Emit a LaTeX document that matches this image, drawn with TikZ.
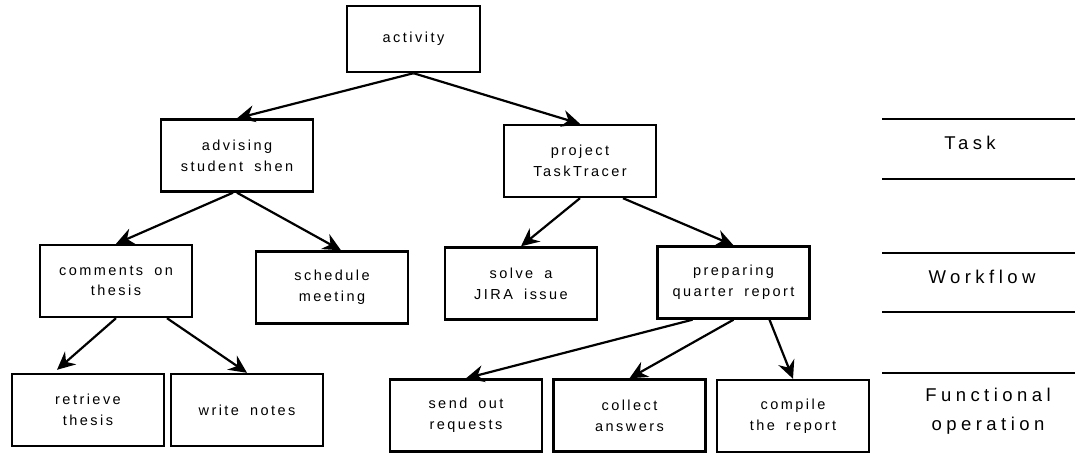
\documentclass[tikz,border=0pt]{standalone}
\usepackage{fontspec}
\setmainfont{Liberation Sans}[LetterSpace=17,WordSpace=1.7]
\newfontfamily\levelfont{Liberation Sans}[LetterSpace=24]
\usetikzlibrary{arrows.meta}

\begin{document}
\begin{tikzpicture}[x=1pt,y=-1pt]
    \tikzstyle{every node}=[font=\fontsize{14.5}{20.7}\selectfont]
    \tikzstyle{box}=[draw,line width=2.4pt,minimum width=152pt,minimum height=72pt,align=center,inner sep=0pt]
    \tikzstyle{link}=[line width=2.2pt,-{Stealth[length=18pt,width=17pt,inset=6pt]}]
    \tikzstyle{level}=[font=\levelfont\fontsize{18.5}{29}\selectfont,align=center]
    \useasboundingbox (0,0) rectangle (1075,455);

    \node[box,minimum width=133pt,minimum height=66pt] (activity) at (413.5,39) {activity};

    \node[box] (advising) at (237,155.5) {advising\\student shen};
    \node[box] (project) at (580,161) {project\\TaskTracer};

    \node[box] (comments) at (116,281) {comments on\\thesis};
    \node[box] (schedule) at (332,287.5) {schedule\\meeting};
    \node[box] (solve) at (521,283.5) {solve a\\JIRA issue};
    \node[box] (preparing) at (733.5,282.5) {preparing\\quarter report};

    \node[box] (retrieve) at (88,410) {retrieve\\thesis};
    \node[box] (notes) at (247,410) {write notes};
    \node[box] (requests) at (466,415.5) {send out\\requests};
    \node[box] (answers) at (629.5,415.5) {collect\\answers};
    \node[box] (report) at (793,416) {compile\\the report};

    \draw[link] (activity.south) -- (advising.north);
    \draw[link] (activity.south) -- (project.north);

    \draw[link] ([xshift=-4pt]advising.south) -- (comments.north);
    \draw[link] (advising.south) -- ([xshift=9pt]schedule.north);

    \draw[link] (project.south) -- (solve.north);
    \draw[link] ([xshift=43pt]project.south) -- (preparing.north);

    \draw[link] (comments.south) -- ([xshift=-31pt,yshift=3pt]retrieve.north);
    \draw[link] ([xshift=51pt]comments.south) -- (notes.north);

    \draw[link] ([xshift=-41pt]preparing.south) -- (requests.north);
    \draw[link] (preparing.south) -- (answers.north);
    \draw[link] ([xshift=36pt]preparing.south) -- (report.north);

    % levels on the right
    \foreach \y in {119,179,253,312,373}
        \draw[line width=1.8pt] (882,\y) -- (1075,\y);
    \node[level] (task) at (970,143) {Task};
    \node[level] (workflow) at (982,277) {Workflow};
    \node[level] (functional) at (988,411) {Functional\\operation};
\end{tikzpicture}
\end{document}
